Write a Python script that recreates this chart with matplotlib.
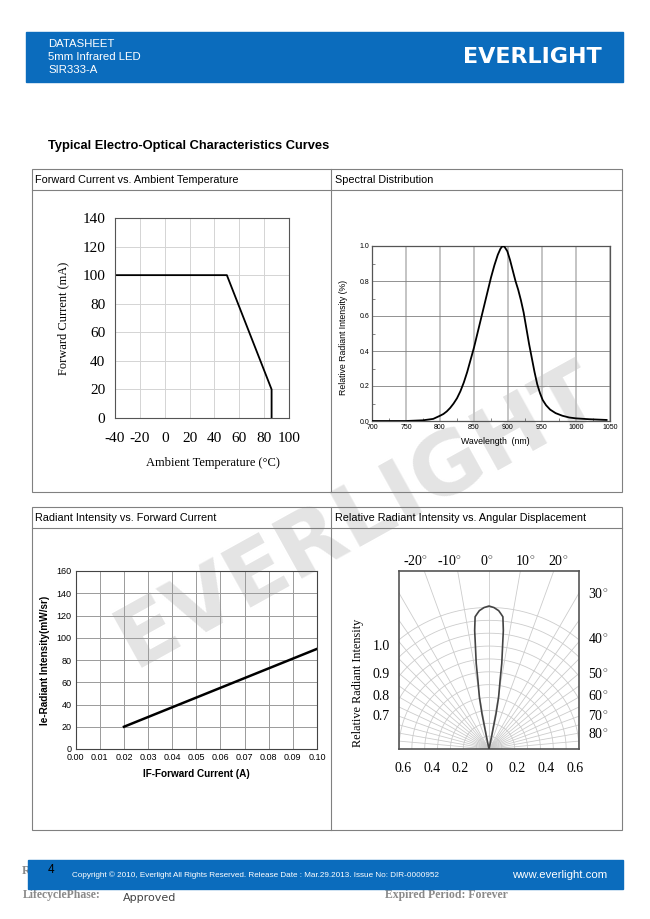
import numpy as np
import matplotlib
matplotlib.use("Agg")
import matplotlib.pyplot as plt
from matplotlib.patches import Rectangle

plt.rcParams['mathtext.fontset'] = 'custom'
plt.rcParams['mathtext.rm'] = 'Liberation Serif'
plt.rcParams['axes.unicode_minus'] = False

SERIF = 'Liberation Serif'
SANS = 'Liberation Sans'
BLUE = '#0b6cbd'

# forward current vs ambient temperature (derating)
temp_c = [-40, 50, 86, 86]
forward_ma = [100, 100, 20, 0]

# spectral distribution
wavelength_nm = [700, 750, 775, 790, 800, 805, 810, 815, 820, 825, 830, 835, 840, 845, 850, 855,
                 860, 865, 870, 875, 880, 885, 889, 892, 895, 899, 903, 907, 911, 915, 919, 923,
                 927, 931, 935, 939, 943, 947, 951, 956, 962, 970, 980, 990, 1000, 1020, 1045]
rel_intensity = [0, 0, 0.004, 0.012, 0.03, 0.04, 0.055, 0.075, 0.1, 0.13, 0.17, 0.22, 0.28, 0.35, 0.42, 0.5,
                 0.58, 0.66, 0.74, 0.82, 0.89, 0.95, 0.985, 1.0, 0.995, 0.97, 0.92, 0.86, 0.8, 0.75, 0.69, 0.62,
                 0.53, 0.44, 0.36, 0.28, 0.21, 0.16, 0.12, 0.09, 0.065, 0.045, 0.03, 0.02, 0.015, 0.01, 0.006]

# radiant intensity vs forward current
if_a = [0.02, 0.10]
ie_mw_sr = [20, 90]

# angular displacement lobe (one half, mirrored)
lobe_deg = [0, 2, 4, 5, 6, 6.9, 7.6, 8.5, 9.2, 10.5, 11.3, 11.8, 12.0]
lobe_r = [1.0, 0.99, 0.97, 0.95, 0.93, 0.835, 0.715, 0.605, 0.485, 0.37, 0.25, 0.08, 0.0]

top_angles = ['-20', '-10', '0', '10', '20']
side_angles = ['30', '40', '50', '60', '70', '80']
left_scale = ['1.0', '0.9', '0.8', '0.7']


def px(x, y, w, h):
    # pixel box (top-left origin) -> figure fraction
    return [x / 650, 1 - (y + h) / 919, w / 650, h / 919]


fig = plt.figure(figsize=(6.5, 9.19), dpi=100)

bg = fig.add_axes([0, 0, 1, 1], zorder=-10)
bg.set_xlim(0, 650)
bg.set_ylim(919, 0)
bg.axis('off')

# watermark
bg.text(358, 517, 'EVERLIGHT', fontsize=62, weight='bold', family='DejaVu Sans',
        color='#e4e4e4', rotation=29, ha='center', va='center', zorder=0)

# header band
bg.add_patch(Rectangle((26, 32), 597, 50, color=BLUE, zorder=1))
for i, s in enumerate(['DATASHEET', '5mm Infrared LED', 'SIR333-A']):
    bg.text(48, 44 + 13 * i, s, color='white', fontsize=8.2, family=SANS, va='center', zorder=2)
bg.text(602, 57, 'EVERLIGHT', color='white', fontsize=16, weight='bold', family='DejaVu Sans',
        ha='right', va='center', zorder=2)

bg.text(48, 146, 'Typical Electro-Optical Characteristics Curves', fontsize=9.3, weight='bold',
        family=SANS, va='center', zorder=2)

# tables
def table(y0, y1, left, right):
    bg.add_patch(Rectangle((32, y0), 590, y1 - y0, fill=False, ec='#808080', lw=0.8, zorder=2))
    bg.plot([32, 622], [y0 + 21, y0 + 21], color='#808080', lw=0.8, zorder=2)
    bg.plot([331, 331], [y0, y1], color='#808080', lw=0.8, zorder=2)
    bg.text(35, y0 + 11, left, fontsize=7.8, family=SANS, va='center', zorder=2)
    bg.text(335, y0 + 11, right, fontsize=7.8, family=SANS, va='center', zorder=2)

table(169, 492, 'Forward Current vs. Ambient Temperature', 'Spectral Distribution')
table(507, 830, 'Radiant Intensity vs. Forward Current', 'Relative Radiant Intensity vs. Angular Displacement')

# footer
bg.text(22, 871, 'R', fontsize=9, weight='bold', family=SERIF, color='#8a8a8a', va='center', zorder=1)
bg.add_patch(Rectangle((28, 860), 595, 29, color=BLUE, zorder=2))
bg.text(48, 870, '4', fontsize=8.5, family=SANS, color='black', va='center', zorder=3)
bg.text(72, 875, 'Copyright \u00a9 2010, Everlight All Rights Reserved. Release Date : Mar.29.2013. Issue No: DIR-0000952',
        fontsize=5.9, family=SANS, color='white', va='center', zorder=3)
bg.text(607, 875, 'www.everlight.com', fontsize=8.2, family=SANS, color='white', ha='right', va='center', zorder=3)
bg.text(23, 895, 'LifecyclePhase:', fontsize=8.5, weight='bold', family=SERIF, color='#8a8a8a', va='center', zorder=1)
bg.text(123, 898, 'Approved', fontsize=8, family='DejaVu Sans', color='#444444', va='center', zorder=1)
bg.text(385, 895, 'Expired Period: Forever', fontsize=8.5, weight='bold', family=SERIF, color='#8a8a8a',
        va='center', zorder=1)

# ---- chart 1: forward current vs ambient temperature
ax1 = fig.add_axes(px(115, 218, 174, 200))
ax1.set_facecolor('none')
ax1.plot(temp_c, forward_ma, color='black', lw=1.3)
ax1.set_xlim(-40, 100)
ax1.set_ylim(0, 140)
ax1.set_xticks(range(-40, 101, 20))
ax1.set_yticks(range(0, 141, 20))
ax1.grid(color='#d4d4d4', lw=0.7)
ax1.tick_params(length=0, labelsize=11)
ax1.tick_params(axis='x', pad=10)
ax1.tick_params(axis='y', pad=7)
for lab in ax1.get_xticklabels() + ax1.get_yticklabels():
    lab.set_family(SERIF)
for sp in ax1.spines.values():
    sp.set_color('#555555')
ax1.set_ylabel('Forward Current (mA)', family=SERIF, fontsize=9, va='center')
ax1.yaxis.set_label_coords(-0.30, 0.5)
ax1.set_xlabel('Ambient Temperature (\u00b0C)', family=SERIF, fontsize=9, va='center')
ax1.xaxis.set_label_coords(0.56, -0.225)

# ---- chart 2: spectral distribution
ax2 = fig.add_axes(px(372, 246, 238, 175))
ax2.set_facecolor('none')
ax2.plot(wavelength_nm, rel_intensity, color='black', lw=1.3, zorder=3)
ax2.set_xlim(700, 1050)
ax2.set_ylim(0, 1.0)
ax2.set_xticks(range(700, 1051, 50))
ax2.set_yticks(np.arange(0, 1.01, 0.2))
ax2.set_yticklabels(['0.0', '0.2', '0.4', '0.6', '0.8', '1.0'])
ax2.set_yticks(np.arange(0.1, 1.0, 0.2), minor=True)
ax2.set_xticks(range(725, 1050, 50), minor=True)
ax2.grid(axis='x', color='#c4c4c4', lw=1.4)
ax2.grid(axis='y', color='#808080', lw=0.6)
ax2.tick_params(length=0, labelsize=5, pad=2)
ax2.tick_params(which='minor', direction='in', length=2, width=0.5, color='#555555')
for lab in ax2.get_xticklabels() + ax2.get_yticklabels():
    lab.set_family(SANS)
for sp in ax2.spines.values():
    sp.set_color('#555555')
    sp.set_linewidth(0.9)
ax2.set_xlabel('Wavelength  (nm)', family=SANS, fontsize=6.3, va='center')
ax2.xaxis.set_label_coords(0.52, -0.115)
ax2.set_ylabel('Relative Radiant Intensity (%)', family=SANS, fontsize=6.3, va='center')
ax2.yaxis.set_label_coords(-0.12, 0.48)

# ---- chart 3: radiant intensity vs forward current
ax3 = fig.add_axes(px(75.7, 571, 241.3, 178))
ax3.set_facecolor('none')
ax3.plot(if_a, ie_mw_sr, color='black', lw=1.8)
ax3.set_xlim(0, 0.10)
ax3.set_ylim(0, 160)
ax3.set_xticks(np.arange(0, 0.1001, 0.01))
ax3.set_xticklabels(['%.2f' % v for v in np.arange(0, 0.1001, 0.01)])
ax3.set_yticks(range(0, 161, 20))
ax3.grid(color='#9a9a9a', lw=0.7)
ax3.tick_params(length=0, labelsize=6.5, pad=3)
for lab in ax3.get_xticklabels() + ax3.get_yticklabels():
    lab.set_family(SANS)
for sp in ax3.spines.values():
    sp.set_color('#444444')
ax3.set_ylabel('Ie-Radiant Intensity(mW/sr)', family=SANS, fontsize=7.2, weight='bold', va='center')
ax3.yaxis.set_label_coords(-0.127, 0.5)
ax3.set_xlabel('IF-Forward Current (A)', family=SANS, fontsize=7.2, weight='bold', va='center')
ax3.xaxis.set_label_coords(0.5, -0.14)

# ---- chart 4: relative radiant intensity vs angular displacement
ax4 = fig.add_axes(px(399, 571, 180, 178))
ax4.set_facecolor('none')
ax4.set_xlim(-0.63, 0.63)
ax4.set_ylim(0, 1.245)
arc = np.radians(np.linspace(-90, 90, 361))
for r in np.linspace(0.09, 0.99, 11):
    ax4.plot(r * np.sin(arc), r * np.cos(arc), color='#cccccc', lw=0.6, zorder=1)
for a in [0, 10, 20, 30, 35, 40, 45, 50, 55, 60, 65, 70, 75, 80, 85]:
    for s in ([1] if a == 0 else [1, -1]):
        t = np.radians(s * a)
        ax4.plot([0, 2 * np.sin(t)], [0, 2 * np.cos(t)], color='#cccccc', lw=0.6, zorder=1)
th = np.radians(np.array(lobe_deg))
rr = np.array(lobe_r)
lx = np.concatenate([-(rr * np.sin(th))[::-1], rr * np.sin(th)])
ly = np.concatenate([(rr * np.cos(th))[::-1], rr * np.cos(th)])
ax4.plot(lx, ly, color='#444444', lw=1.2, zorder=3)
ax4.set_xticks([-0.6, -0.4, -0.2, 0, 0.2, 0.4, 0.6])
ax4.set_xticklabels(['0.6', '0.4', '0.2', '0', '0.2', '0.4', '0.6'])
ax4.set_yticks([])
ax4.tick_params(length=0, labelsize=10, pad=9)
for lab in ax4.get_xticklabels():
    lab.set_family(SERIF)
for sp in ax4.spines.values():
    sp.set_color('#555555')
    sp.set_linewidth(1.2)

for s, x in zip(top_angles, [415, 449, 487, 525, 558]):
    bg.text(x, 562, s + r'$^{\circ}$', fontsize=10, family=SERIF, ha='center', va='center', zorder=2)
for s, y in zip(side_angles, [595, 640, 675, 697, 717, 735]):
    bg.text(588, y, s + r'$^{\circ}$', fontsize=10, family=SERIF, ha='left', va='center', zorder=2)
for s, y in zip(left_scale, [646, 675, 697, 716]):
    bg.text(381, y, s, fontsize=10, family=SERIF, ha='center', va='center', zorder=2)
bg.text(358, 683, 'Relative Radiant Intensity', fontsize=8.8, family=SERIF, rotation=90,
        ha='center', va='center', zorder=2)

fig.savefig('out.png', dpi=100)
